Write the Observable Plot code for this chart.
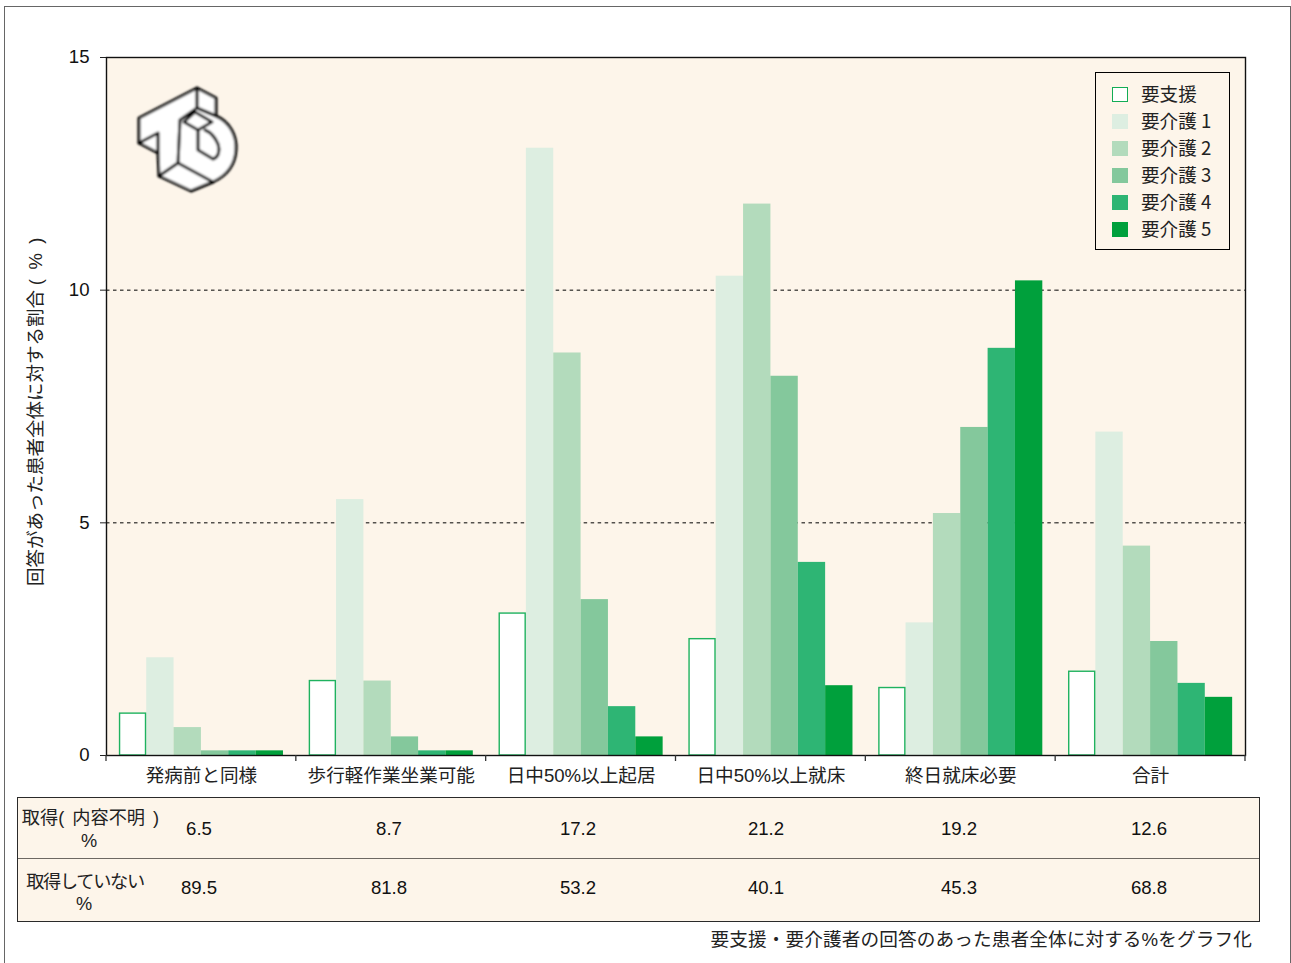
<!DOCTYPE html>
<html lang="ja">
<head>
<meta charset="utf-8">
<script src="https://cdn.jsdelivr.net/npm/d3@7"></script>
<script src="https://cdn.jsdelivr.net/npm/@observablehq/plot@0.6"></script>
<style>
  html, body { margin: 0; padding: 0; background: #fff; overflow: hidden; }
  #page { position: relative; width: 1291px; height: 963px; font-family: "Liberation Sans", "Noto Sans CJK JP", sans-serif; color: #111; }
  #chart svg { display: block; position: absolute; left: 0; top: 0; }
  #border { position: absolute; left: 4px; top: 6px; width: 1287px; height: 970px; border: 1.5px solid #666; box-sizing: border-box; }
  #legend { position: absolute; left: 1095px; top: 72px; width: 135px; height: 178px; box-sizing: border-box; border: 1.5px solid #000; font: 18.6px "Noto Sans CJK JP", sans-serif; color: #222; }
  #legend .row { position: absolute; left: 16px; height: 27px; line-height: 27px; white-space: pre; }
  #legend .sw { position: absolute; left: 0; top: 5px; width: 16px; height: 15.5px; box-sizing: border-box; }
  #legend .lb { position: absolute; left: 29px; top: -2.5px; }
  #logo { position: absolute; left: 130px; top: 80px; }
  #table { position: absolute; left: 17px; top: 797px; width: 1243px; height: 125px; box-sizing: border-box; background: #fdf5ea; border: 1.5px solid #2a2a2a; }
  #table .sep { position: absolute; left: 0; right: 0; top: 59.5px; height: 1.5px; background: #6d6862; }
  .cell { position: absolute; transform: translate(-50%, -50%); white-space: pre; font-size: 18.6px; }
  .head { font-size: 18.2px; font-family: "Liberation Sans", "Noto Sans CJK JP", sans-serif; color: #222; }
  #caption { position: absolute; right: 39px; top: 924px; font: 18.65px "Liberation Sans", "Noto Sans CJK JP", sans-serif; letter-spacing: 0.1px; color: #222; white-space: pre; }
</style>
</head>
<body>
<div id="page">
  <div id="chart"></div>
  <div id="border"></div>
  <svg id="logo" width="116" height="120" viewBox="130 80 116 120">
    <defs><filter id="soft"><feGaussianBlur stdDeviation="0.8"/></filter></defs>
    <g filter="url(#soft)" fill="#fff" stroke="#000" stroke-width="3" stroke-linejoin="round" stroke-linecap="round">
      <path d="M139 118 L197 88 L216 98 L216 116 C230 122 237 136 236 150 C235 166 226 176 213 182 L191 191 L159 176 L158 153 L139 143 Z"/>
      <path fill="none" d="M197 88 L197 108 L216 116 M197 108 L180 120 L178 163 L159 176 M178 163 L213 182 M139 143 L158 133 L158 153 M184 122 L195 112 L212 122 L198 130 Z M198 130 L198 150 L213 159 C219 157 220 150 218 144 C215 137 210 132 205 130"/>
    </g>
  </svg>
  <div id="legend"></div>
  <div id="table"><div class="sep"></div></div>
  <div id="caption"></div>
</div>
<script>
const categories = ["発病前と同様", "歩行軽作業坐業可能", "日中50%以上起居", "日中50%以上就床", "終日就床必要", "合計"];
const seriesNames = ["要支援", "要介護 1", "要介護 2", "要介護 3", "要介護 4", "要介護 5"];
const seriesFills = ["#ffffff", "#ddeee1", "#b3dbbc", "#84c89c", "#2eb574", "#00a03c"];
const seriesShien = [0.9, 1.6, 3.05, 2.5, 1.45, 1.8];
const seriesKaigo1 = [2.1, 5.5, 13.05, 10.3, 2.85, 6.95];
const seriesKaigo2 = [0.6, 1.6, 8.65, 11.85, 5.2, 4.5];
const seriesKaigo3 = [0.1, 0.4, 3.35, 8.15, 7.05, 2.45];
const seriesKaigo4 = [0.1, 0.1, 1.05, 4.15, 8.75, 1.55];
const seriesKaigo5 = [0.1, 0.1, 0.4, 1.5, 10.2, 1.25];
const allSeries = [seriesShien, seriesKaigo1, seriesKaigo2, seriesKaigo3, seriesKaigo4, seriesKaigo5];
const yTicks = [0, 5, 10, 15];
const gridValues = [5, 10];
const yTitle = "回答があった患者全体に対する割合 (  %  )";
const rowHeads = [["取得( 内容不明 )", "%"], ["取得していない", "%"]];
const rowKnown = ["6.5", "8.7", "17.2", "21.2", "19.2", "12.6"];
const rowNone = ["89.5", "81.8", "53.2", "40.1", "45.3", "68.8"];
const captionText = "要支援・要介護者の回答のあった患者全体に対する%をグラフ化";

const rows = categories.flatMap((c, i) => seriesNames.map((s, j) => ({category: c, series: s, value: allSeries[j][i]})));
const mixed = '"Liberation Sans", "Noto Sans CJK JP", sans-serif';

const plot = Plot.plot({
  width: 1291, height: 790,
  marginLeft: 106, marginRight: 46, marginTop: 57, marginBottom: 35,
  style: {fontFamily: mixed, fontSize: "18.4px", color: "#111", background: "transparent"},
  fx: {domain: categories, padding: 0, round: false, label: null},
  x: {domain: seriesNames, paddingInner: 0, paddingOuter: 0.47, round: false, axis: null},
  y: {domain: [0, 15], label: null},
  color: {domain: seriesNames, range: seriesFills},
  marks: [
    Plot.frame({fill: "#fdf5ea", stroke: "none", facet: "super"}),
    Plot.ruleY(gridValues, {stroke: "#000", strokeWidth: 1, strokeDasharray: "3.5 3.5"}),
    Plot.barY(rows.filter(d => d.series !== seriesNames[0]), {fx: "category", x: "series", y: "value", fill: "series"}),
    Plot.barY(rows.filter(d => d.series === seriesNames[0]), {fx: "category", x: "series", y: "value", fill: "series", stroke: "#1fb25f", strokeWidth: 1.4, insetLeft: 0.7, insetRight: 0.7}),
    Plot.axisY({ticks: yTicks, tickSize: 6, tickPadding: 11, stroke: "#222", fontSize: 18.6, label: null}),
    Plot.axisFx({anchor: "bottom", tickSize: 0, tickPadding: 13, fontSize: 18.6, fontFamily: mixed, label: null, fill: "#222"}),
    Plot.frame({stroke: "#111", strokeWidth: 1.4, fill: "none", facet: "super"})
  ]
});
document.getElementById("chart").append(plot);

// Tick marks on the band boundaries of the fx scale, and the rotated y title.
const svg = d3.select(plot);
const fx = plot.scale("fx");
const yScale = plot.scale("y");
const base = yScale.apply(0);
const ticksAt = categories.map(c => fx.apply(c)).concat([fx.apply(categories[5]) + fx.bandwidth]);
svg.append("g").attr("stroke", "#333").attr("stroke-width", 1.3).selectAll("line").data(ticksAt).join("line")
  .attr("x1", d => d).attr("x2", d => d).attr("y1", base).attr("y2", base + 6);
svg.append("text").text(yTitle)
  .attr("transform", "translate(37.5,586) rotate(-90)")
  .attr("text-anchor", "start").attr("dominant-baseline", "middle")
  .style("white-space", "pre").style("word-spacing", "-0.4px")
  .style("font-family", mixed).style("font-size", "18.5px").attr("fill", "#222");

// Legend
const legend = document.getElementById("legend");
const legendTops = [8.5, 35.5, 62.5, 89.5, 116.5, 143.5];
seriesNames.forEach((s, i) => {
  const row = document.createElement("div"); row.className = "row"; row.style.top = legendTops[i] + "px";
  const sw = document.createElement("div"); sw.className = "sw"; sw.style.background = seriesFills[i];
  if (i === 0) sw.style.border = "1.5px solid #12ad55";
  const lb = document.createElement("div"); lb.className = "lb"; lb.textContent = s;
  row.append(sw, lb); legend.append(row);
});

// Table
const table = document.getElementById("table");
const valueCentres = [181, 371, 560, 748, 941, 1131];
const addCell = (text, x, y, cls, css) => {
  const d = document.createElement("div"); d.className = "cell " + (cls || ""); d.textContent = text;
  d.style.left = x + "px"; d.style.top = y + "px"; Object.assign(d.style, css || {}); table.append(d);
};
const headX = [[72.5, 71], [67, 66]];
const headY = [[18, 43], [82, 106]];
const headStyle = [{wordSpacing: "3px"}, {letterSpacing: "-1.3px"}];
rowHeads.forEach((lines, r) => lines.forEach((t, k) => addCell(t, headX[r][k], headY[r][k], "head", k === 0 ? headStyle[r] : {})));
rowKnown.forEach((t, i) => addCell(t, valueCentres[i], 30.5));
rowNone.forEach((t, i) => addCell(t, valueCentres[i], 89.5));
document.getElementById("caption").textContent = captionText;
</script>
</body>
</html>
